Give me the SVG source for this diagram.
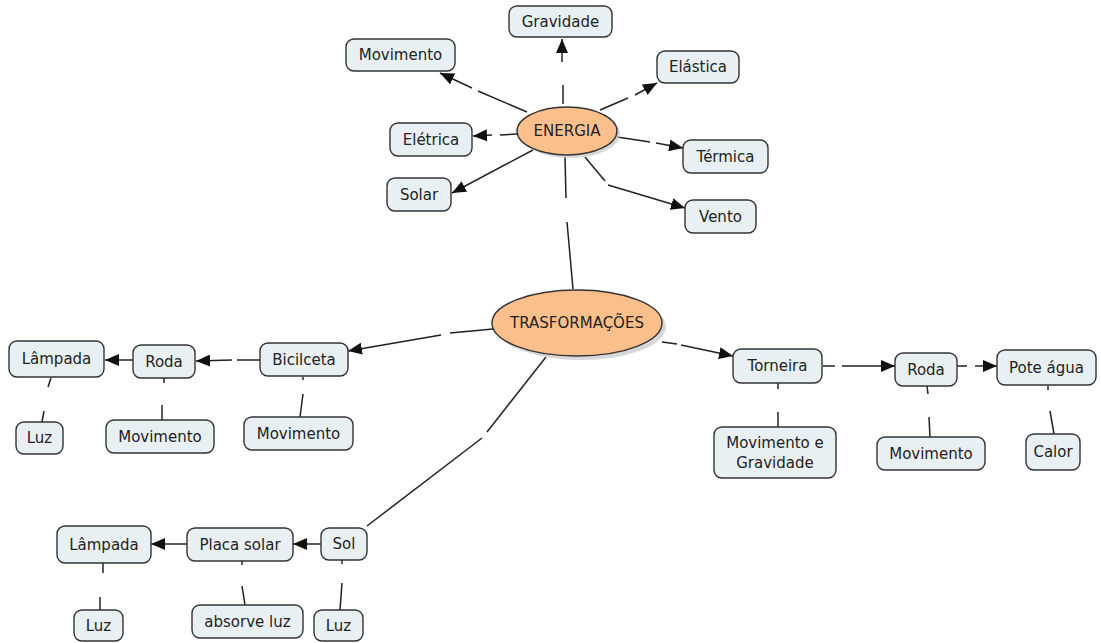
<svg xmlns="http://www.w3.org/2000/svg" width="1101" height="643" viewBox="0 0 1101 643">
<style>
.box{fill:#e9f0f3;stroke:#333;stroke-width:1.4}
.ell{fill:#fbbf8b;stroke:#333;stroke-width:1.4}
.sh{fill:#c8c8c8;opacity:0.7}
.t{font-family:"DejaVu Sans","Liberation Sans",sans-serif;font-size:15px;fill:#222;text-anchor:middle}
.c line{stroke:#222;stroke-width:1.5;fill:none}
.a{marker-end:url(#arr)}
</style>
<defs>
<marker id="arr" viewBox="0 0 14 12" refX="14" refY="6" markerWidth="14" markerHeight="12" markerUnits="userSpaceOnUse" orient="auto">
<path d="M0,0 L14,6 L0,12 z" fill="#111"/>
</marker>
</defs>
<rect width="1101" height="643" fill="#fff"/>

<g id="connectors" class="c">
<!-- ENERGIA links -->
<line x1="527" y1="112" x2="478" y2="91"/><line class="a" x1="472" y1="88" x2="440" y2="73"/>
<line x1="563" y1="104" x2="563" y2="85"/><line class="a" x1="562" y1="62" x2="562" y2="39"/>
<line x1="600" y1="110" x2="628" y2="98"/><line class="a" x1="635" y1="95" x2="657" y2="83"/>
<line x1="517" y1="134" x2="500" y2="135"/><line class="a" x1="492" y1="135" x2="473" y2="136"/>
<line x1="617" y1="137" x2="650" y2="142"/><line class="a" x1="656" y1="143" x2="683" y2="148"/>
<line class="a" x1="533" y1="150" x2="452" y2="193"/>
<line x1="585" y1="157" x2="605" y2="181"/><line class="a" x1="608" y1="185" x2="685" y2="208"/>
<line x1="565" y1="157" x2="566" y2="198"/><line x1="567" y1="222" x2="573" y2="289"/>
<!-- TRASFORMACOES -> Bicilceta chain -->
<line x1="493" y1="329" x2="450" y2="333"/><line class="a" x1="441" y1="335" x2="348" y2="351"/>
<line x1="260" y1="360" x2="237" y2="360"/><line class="a" x1="232" y1="360" x2="196" y2="361"/>
<line class="a" x1="133" y1="360" x2="105" y2="360"/>
<line x1="164" y1="378" x2="164" y2="383"/><line x1="162" y1="405" x2="162" y2="420"/>
<line x1="51" y1="378" x2="48" y2="387"/><line x1="44" y1="411" x2="42" y2="422"/>
<line x1="303" y1="377" x2="303" y2="380"/><line x1="303" y1="394" x2="300" y2="417"/>
<!-- TRASFORMACOES -> Torneira chain -->
<line x1="662" y1="342" x2="677" y2="344"/><line class="a" x1="681" y1="345" x2="733" y2="356"/>
<line x1="823" y1="366" x2="835" y2="366"/><line class="a" x1="842" y1="366" x2="895" y2="366"/>
<line x1="957" y1="366" x2="967" y2="366"/><line class="a" x1="975" y1="366" x2="997" y2="366"/>
<line x1="778" y1="383" x2="778" y2="389"/><line x1="778" y1="412" x2="778" y2="427"/>
<line x1="927" y1="386" x2="928" y2="394"/><line x1="929" y1="417" x2="930" y2="437"/>
<line x1="1048" y1="386" x2="1048" y2="390"/><line x1="1050" y1="411" x2="1054" y2="434"/>
<!-- TRASFORMACOES -> Sol chain -->
<line x1="546" y1="357" x2="487" y2="432"/><line x1="482" y1="438" x2="367" y2="526"/>
<line class="a" x1="321" y1="544" x2="293" y2="544"/>
<line class="a" x1="187" y1="544" x2="151" y2="544"/>
<line x1="242" y1="561" x2="242" y2="565"/><line x1="242" y1="586" x2="245" y2="605"/>
<line x1="342" y1="560" x2="342" y2="564"/><line x1="342" y1="583" x2="340" y2="610"/>
<line x1="103" y1="563" x2="103" y2="573"/><line x1="100" y1="597" x2="100" y2="610"/>
</g>

<g id="n-energia"><ellipse class="sh" cx="570" cy="134" rx="50" ry="24"/><ellipse class="ell" cx="567" cy="131" rx="50" ry="24"/><text class="t" x="567" y="136">ENERGIA</text></g>
<g id="n-trasformacoes"><ellipse class="sh" cx="581" cy="327" rx="85" ry="33"/><ellipse class="ell" cx="577" cy="323" rx="85" ry="33"/><text class="t" x="577" y="328">TRASFORMAÇÕES</text></g>

<g id="n-gravidade"><rect class="box" x="509" y="6" width="103" height="31" rx="8"/><text class="t" x="560.5" y="26.5">Gravidade</text></g>
<g id="n-movimento-top"><rect class="box" x="346" y="39" width="109" height="32" rx="8"/><text class="t" x="400.5" y="60">Movimento</text></g>
<g id="n-elastica"><rect class="box" x="657" y="51" width="82" height="32" rx="8"/><text class="t" x="698" y="72">Elástica</text></g>
<g id="n-eletrica"><rect class="box" x="390" y="123" width="82" height="33" rx="8"/><text class="t" x="431" y="144.5">Elétrica</text></g>
<g id="n-termica"><rect class="box" x="683" y="140" width="85" height="33" rx="8"/><text class="t" x="725.5" y="161.5">Térmica</text></g>
<g id="n-solar"><rect class="box" x="387" y="178" width="64" height="33" rx="8"/><text class="t" x="419" y="199.5">Solar</text></g>
<g id="n-vento"><rect class="box" x="685" y="200" width="71" height="33" rx="8"/><text class="t" x="720.5" y="221.5">Vento</text></g>

<g id="n-bicilceta"><rect class="box" x="260" y="343" width="88" height="33" rx="8"/><text class="t" x="304" y="364.5">Bicilceta</text></g>
<g id="n-roda-left"><rect class="box" x="133" y="345" width="62" height="33" rx="8"/><text class="t" x="164" y="366.5">Roda</text></g>
<g id="n-lampada-top"><rect class="box" x="9" y="341" width="95" height="36" rx="8"/><text class="t" x="56.5" y="364">Lâmpada</text></g>
<g id="n-luz-1"><rect class="box" x="16" y="422" width="47" height="32" rx="8"/><text class="t" x="39.5" y="443">Luz</text></g>
<g id="n-movimento-roda"><rect class="box" x="106" y="420" width="108" height="33" rx="8"/><text class="t" x="160" y="441.5">Movimento</text></g>
<g id="n-movimento-bici"><rect class="box" x="244" y="417" width="109" height="33" rx="8"/><text class="t" x="298.5" y="438.5">Movimento</text></g>

<g id="n-torneira"><rect class="box" x="733" y="349" width="89" height="34" rx="8"/><text class="t" x="777.5" y="371">Torneira</text></g>
<g id="n-roda-right"><rect class="box" x="895" y="353" width="62" height="33" rx="8"/><text class="t" x="926" y="374.5">Roda</text></g>
<g id="n-pote"><rect class="box" x="997" y="350" width="99" height="35" rx="8"/><text class="t" x="1046.5" y="372.5">Pote água</text></g>
<g id="n-mov-grav"><rect class="box" x="714" y="427" width="122" height="51" rx="8"/><text class="t" x="775" y="448">Movimento e</text><text class="t" x="775" y="468">Gravidade</text></g>
<g id="n-movimento-right"><rect class="box" x="877" y="437" width="108" height="33" rx="8"/><text class="t" x="931" y="458.5">Movimento</text></g>
<g id="n-calor"><rect class="box" x="1026" y="434" width="54" height="36" rx="8"/><text class="t" x="1053" y="457">Calor</text></g>

<g id="n-sol"><rect class="box" x="321" y="528" width="46" height="32" rx="8"/><text class="t" x="344" y="549">Sol</text></g>
<g id="n-placa"><rect class="box" x="187" y="528" width="106" height="33" rx="8"/><text class="t" x="240" y="549.5">Placa solar</text></g>
<g id="n-lampada-bottom"><rect class="box" x="57" y="526" width="94" height="37" rx="8"/><text class="t" x="104" y="549.5">Lâmpada</text></g>
<g id="n-luz-2"><rect class="box" x="74" y="610" width="49" height="31" rx="8"/><text class="t" x="98.5" y="630.5">Luz</text></g>
<g id="n-absorve"><rect class="box" x="192" y="605" width="111" height="33" rx="8"/><text class="t" x="247.5" y="626.5">absorve luz</text></g>
<g id="n-luz-3"><rect class="box" x="314" y="610" width="49" height="31" rx="8"/><text class="t" x="338.5" y="630.5">Luz</text></g>
</svg>
